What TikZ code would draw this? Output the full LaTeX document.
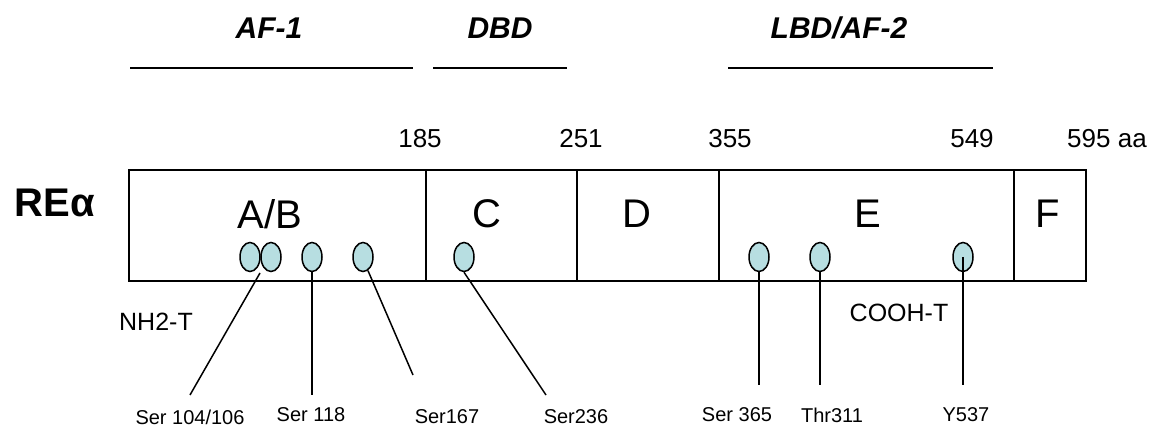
\documentclass[tikz,border=0pt]{standalone}
\usepackage{fontspec}
\setmainfont{Liberation Sans}
\usetikzlibrary{shapes.geometric}
\definecolor{dotfill}{RGB}{183,222,225}
\begin{document}
\begin{tikzpicture}[x=1pt,y=-1pt,
  box/.style={draw=black,line width=1.8pt,minimum height=111pt,inner sep=0pt,anchor=north west},
  boxlbl/.style={font=\fontsize{40}{44}\selectfont},
  dom/.style={font=\fontsize{30}{34}\selectfont\bfseries\itshape},
  num/.style={font=\fontsize{26}{30}\selectfont},
  term/.style={font=\fontsize{25}{29}\selectfont},
  site/.style={font=\fontsize{20}{24}\selectfont},
  dot/.style={draw=black,line width=1.5pt,fill=dotfill,ellipse,minimum width=20pt,minimum height=29pt,inner sep=0pt},
  conn/.style={line width=1.5pt},
  bar/.style={line width=2pt}]
\useasboundingbox (0,0) rectangle (1157,427);
% domain boxes
\node[box,minimum width=297pt] (ab) at (128,169) {};
\node[box,minimum width=151pt] (c) at (425,169) {};
\node[box,minimum width=142pt] (d) at (576,169) {};
\node[box,minimum width=295pt] (e) at (718,169) {};
\node[box,minimum width=72pt] (f) at (1013,169) {};
\node[boxlbl] (lab) at (270,214) {A/B};
\node[boxlbl] (lc) at (487,214) {C};
\node[boxlbl] (ld) at (637,214) {D};
\node[boxlbl] (le) at (868,214) {E};
\node[boxlbl] (lf) at (1048,214) {F};
% title
\node[font=\fontsize{40}{44}\selectfont\bfseries] (rea) at (55,203) {REα};
% domain labels and bars
\node[dom] (af1) at (269,28) {AF-1};
\node[dom] (dbd) at (500,28) {DBD};
\node[dom] (lbd) at (839,28) {LBD/AF-2};
\coordinate (b1a) at (130,68); \coordinate (b1b) at (413,68);
\coordinate (b2a) at (433,68); \coordinate (b2b) at (567,68);
\coordinate (b3a) at (728,68); \coordinate (b3b) at (993,68);
\draw[bar] (b1a) -- (b1b);
\draw[bar] (b2a) -- (b2b);
\draw[bar] (b3a) -- (b3b);
% residue numbers
\node[num] (n185) at (420,139) {185};
\node[num] (n251) at (581,139) {251};
\node[num] (n355) at (730,139) {355};
\node[num] (n549) at (972,139) {549};
\node[num] (n595) at (1107,139) {595 aa};
% termini
\node[term] (nh2) at (156,322) {NH2-T};
\node[term] (cooh) at (899,313) {COOH-T};
% phosphorylation sites
\node[dot] (s104) at (250,257) {};
\node[dot] (s106) at (271,257) {};
\node[dot] (s118) at (312,257) {};
\node[dot] (s167) at (363,257) {};
\node[dot] (s236) at (464,257) {};
\node[dot] (s365) at (759,257) {};
\node[dot] (t311) at (820,257) {};
\node[dot] (y537) at (963,257) {};
% labels
\node[site] (l104) at (190,417) {Ser 104/106};
\node[site] (l118) at (311,415) {Ser 118};
\node[site] (l167) at (447,417) {Ser167};
\node[site] (l236) at (576,417) {Ser236};
\node[site] (l365) at (737,415) {Ser 365};
\node[site] (l311) at (832,415) {Thr311};
\node[site] (l537) at (966,415) {Y537};
% connectors
\coordinate (j104) at (260,273);
\coordinate (e104) at (190,395);
\coordinate (e118) at (312,395);
\coordinate (e167) at (413,375);
\coordinate (e236) at (546,395);
\coordinate (e365) at (759,385);
\coordinate (e311) at (820,385);
\coordinate (e537) at (963,385);
\draw[conn] (j104) -- (e104);
\draw[conn] (s118.south) -- (e118);
\draw[conn] (s167.-70) -- (e167);
\draw[conn] (s236.south) -- (e236);
\draw[conn] (s365.south) -- (e365);
\draw[conn] (t311.south) -- (e311);
\draw[conn] (y537.center) -- (e537);
\end{tikzpicture}
\end{document}
